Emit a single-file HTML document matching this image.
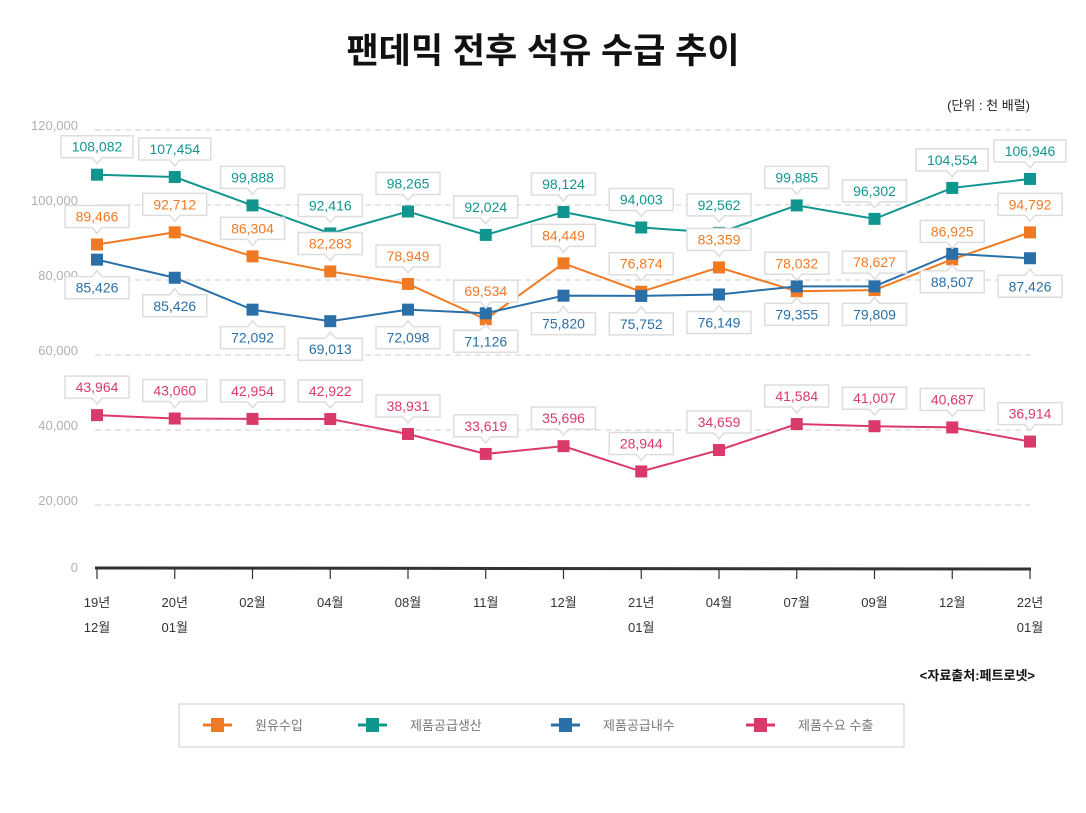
<!DOCTYPE html>
<html><head><meta charset="utf-8">
<style>
body{margin:0;background:#fff;width:1086px;height:813px;overflow:hidden;font-family:"Liberation Sans","Noto Sans CJK KR",sans-serif;}
svg{display:block}
</style></head>
<body>
<svg id="chart" width="1086" height="813" xmlns="http://www.w3.org/2000/svg">
<text x="543" y="63" text-anchor="middle" font-size="35" font-weight="bold" fill="#111">팬데믹 전후 석유 수급 추이</text>
<text x="1030" y="110" text-anchor="end" font-size="13" fill="#222">(단위 : 천 배럴)</text>
<text x="1035" y="680" text-anchor="end" font-size="13" font-weight="bold" fill="#111">&lt;자료출처:페트로넷&gt;</text>
<g id="grid"></g><g id="axis"></g><g id="series"></g><g id="labels"></g>
<g>
<rect x="179" y="704" width="725" height="43" fill="#fff" stroke="#ddd" stroke-width="1.5"/>
<g id="legend"></g>
</g>
</svg>
<script>
const categoriesTop=["19년","20년","02월","04월","08월","11월","12월","21년","04월","07월","09월","12월","22년"];
const categoriesBottom=["12월","01월","","","","","","01월","","","","","01월"];
const yTicks=[0,20000,40000,60000,80000,100000,120000];
const yTickLabels=["0","20,000","40,000","60,000","80,000","100,000","120,000"];
const crudeImport=[89466,92712,86304,82283,78949,69534,84449,76874,83359,77000,77300,85500,92700];
const productProduction=[108082,107454,99888,92416,98265,92024,98124,94003,92562,99885,96302,104554,106946];
const productDomestic=[85426,80600,72092,69013,72098,71126,75820,75752,76149,78300,78300,87000,85800];
const productExport=[43964,43060,42954,42922,38931,33619,35696,28944,34659,41584,41007,40687,36914];
const crudeImportLabels=["89,466","92,712","86,304","82,283","78,949","69,534","84,449","76,874","83,359","78,032","78,627","86,925","94,792"];
const productionLabels=["108,082","107,454","99,888","92,416","98,265","92,024","98,124","94,003","92,562","99,885","96,302","104,554","106,946"];
const domesticLabels=["85,426","85,426","72,092","69,013","72,098","71,126","75,820","75,752","76,149","79,355","79,809","88,507","87,426"];
const exportLabels=["43,964","43,060","42,954","42,922","38,931","33,619","35,696","28,944","34,659","41,584","41,007","40,687","36,914"];

const NS="http://www.w3.org/2000/svg";
const x0=97,x1=1030;
function xs(i){return x0+(x1-x0)*i/(categoriesTop.length-1);}
function ys(v){return 580-v*0.00375;}
function mk(tag,attrs,parent,txt){const e=document.createElementNS(NS,tag);for(const k in attrs)e.setAttribute(k,attrs[k]);if(txt!==undefined)e.textContent=txt;parent.appendChild(e);return e;}
const grid=document.getElementById('grid');
yTicks.forEach((t,i)=>{
  if(t>0){const l=mk('line',{x1:95,x2:1030,y1:ys(t),y2:ys(t),stroke:'#d6d6d6','stroke-dasharray':'6,4','stroke-width':1.2},grid);
  
  }
  const tx=mk('text',{x:78,y:(t===0?ys(t)-8:ys(t)),'text-anchor':'end','font-size':13,fill:'#b0b0b0'},grid,yTickLabels[i]);
  
  
});
const axis=document.getElementById('axis');
const ax=mk('line',{x1:95,x2:1031,y1:568,y2:569,stroke:'#333','stroke-width':3},axis);


categoriesTop.forEach((c,i)=>{
  const x=xs(i);
  mk('line',{x1:x,x2:x,y1:568,y2:579,stroke:'#333','stroke-width':1.2},axis);
  const t=mk('text',{x:x,y:607,'text-anchor':'middle','font-size':13,fill:'#333'},axis,c);
  
  
  if(categoriesBottom[i]){const t2=mk('text',{x:x,y:632,'text-anchor':'middle','font-size':13,fill:'#333'},axis,categoriesBottom[i]);
  
  }
});
const series=[
 {name:'crude-import',vals:crudeImport,labs:crudeImportLabels,color:'#f07a24',pos:-1,lg:'원유수입'},
 {name:'product-production',vals:productProduction,labs:productionLabels,color:'#11968f',pos:-1,lg:'제품공급생산'},
 {name:'product-domestic',vals:productDomestic,labs:domesticLabels,color:'#2a6fa8',pos:1,lg:'제품공급내수'},
 {name:'product-export',vals:productExport,labs:exportLabels,color:'#d93a6a',pos:-1,lg:'제품수요 수출'}
];
const sg=document.getElementById('series'),lg=document.getElementById('labels');
series.forEach(s=>{
  const pts=s.vals.map((v,i)=>xs(i)+','+ys(v)).join(' ');
  const pl=mk('polyline',{points:pts,fill:'none',stroke:s.color,'stroke-width':2},sg);
  
  
  s.vals.forEach((v,i)=>{
    const x=xs(i),y=ys(v);
    const r=mk('rect',{x:x-6,y:y-6,width:12,height:12,fill:s.color},sg);
    
    
    const w=s.labs[i].length>6?72:64,h=22;
    const cy=y+s.pos*28;
    const by=cy-h/2;
    let path;
    if(s.pos<0){path=`M${x-w/2},${by} h${w} v${h} h${-(w/2-5)} l-5,6 l-5,-6 h${-(w/2-5)} z`;}
    else{path=`M${x-w/2},${by} h${w/2-5} l5,-6 l5,6 h${w/2-5} v${h} h${-w} z`;}
    const p=mk('path',{d:path,fill:'#fff',stroke:'#ddd','stroke-width':1.5},lg);
    
    
    const t=mk('text',{x:x,y:cy+5,'text-anchor':'middle','font-size':14,fill:s.color},lg,s.labs[i]);
    
    
  });
});
const leg=document.getElementById('legend');
const legX=[203,358,551,746];
series.forEach((s,i)=>{
  const g=mk('g',{},leg);
  
  
  mk('line',{x1:legX[i],x2:legX[i]+29,y1:725,y2:725,stroke:s.color,'stroke-width':3},g);
  mk('rect',{x:legX[i]+8,y:718,width:13,height:14,fill:s.color},g);
  mk('text',{x:legX[i]+52,y:730,'font-size':13,fill:'#777'},g,s.lg);
});
</script>
</body></html>
